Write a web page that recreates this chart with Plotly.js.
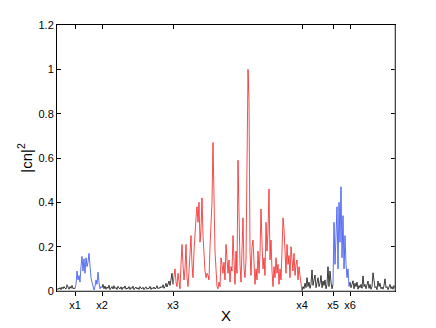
<!DOCTYPE html>
<html>
<head>
<meta charset="utf-8">
<script src="https://cdn.plot.ly/plotly-3.0.1.min.js"></script>
<style>
  html, body { margin: 0; padding: 0; background: #fff; }
  #plot { width: 436px; height: 328px; }
</style>
</head>
<body>
<div id="plot"></div>
<script>
// tick marks on the X axis and their labels
var tickPos = [18, 45, 116, 245, 276, 293];
var tickText = ["x1", "x2", "x3", "x4", "x5", "x6"];
var xMax = 338;

// |cn|^2, one value per step, segment by segment
var blackA = [0.005,0.012,0.008,0.015,0.006,0.018,0.01,0.02,0.012,0.009,
              0.028,0.015,0.008,0.02,0.012,0.025,0.01,0.014,0.01];

var blueA = [0.01,0.03,0.09,0.05,0.07,0.04,0.11,0.156,0.09,0.145,
             0.08,0.15,0.11,0.13,0.17,0.10,0.06,0.04,0.012,0.005,
             0.02,0.05,0.03,0.085,0.04,0.01,0.02,0.015];

var blackB = [0.015,0.03,0.01,0.022,0.008,0.018,0.012,0.026,0.006,0.015,
              0.02,0.009,0.024,0.011,0.016,0.007,0.021,0.013,0.009,0.019,
              0.006,0.017,0.012,0.023,0.008,0.014,0.01,0.02,0.007,0.016,
              0.011,0.022,0.006,0.013,0.018,0.009,0.015,0.007,0.02,0.012,
              0.01,0.017,0.006,0.014,0.019,0.008,0.013,0.011,0.021,0.007,
              0.015,0.01,0.018,0.009,0.013,0.024,0.01,0.016,0.012,0.02,
              0.015,0.028,0.012,0.02,0.035,0.018,0.03,0.045,0.025,0.06,
              0.08,0.03];

var red = [0.03,0.07,0.10,0.04,0.02,0.08,0.03,0.01,0.12,0.21,
           0.12,0.05,0.10,0.21,0.06,0.02,0.09,0.16,0.25,0.12,
           0.06,0.18,0.27,0.33,0.38,0.31,0.40,0.22,0.28,0.42,
           0.25,0.14,0.09,0.06,0.08,0.07,0.05,0.20,0.35,0.40,
           0.67,0.36,0.18,0.10,0.02,0.01,0.04,0.02,0.15,0.12,
           0.08,0.13,0.05,0.21,0.16,0.08,0.14,0.04,0.11,0.09,
           0.25,0.12,0.03,0.18,0.08,0.59,0.26,0.12,0.04,0.16,
           0.33,0.10,0.06,0.14,0.56,1.00,0.86,0.18,0.07,0.20,
           0.23,0.12,0.03,0.10,0.05,0.18,0.08,0.17,0.37,0.22,
           0.10,0.15,0.07,0.31,0.18,0.27,0.46,0.14,0.23,0.09,
           0.02,0.11,0.06,0.15,0.08,0.12,0.03,0.10,0.05,0.18,
           0.33,0.28,0.15,0.08,0.21,0.12,0.16,0.06,0.20,0.13,
           0.09,0.17,0.07,0.12,0.14,0.05,0.11,0.07,0.02,0.00];

var blackC = [0.00,0.02,0.01,0.035,0.015,0.06,0.02,0.04,0.012,0.03,
              0.095,0.025,0.05,0.072,0.015,0.04,0.06,0.02,0.035,0.07,
              0.015,0.045,0.025,0.05,0.01,0.03,0.11,0.02,0.09,0.04,
              0.01,0.03];

var blueB = [0.03,0.31,0.12,0.30,0.38,0.10,0.40,0.22,0.47,0.15,
             0.34,0.10,0.25,0.12,0.06,0.10,0.02,0.04];

var blackD = [0.04,0.015,0.03,0.046,0.01,0.035,0.02,0.04,0.008,0.025,
              0.015,0.03,0.012,0.068,0.02,0.03,0.01,0.025,0.045,0.012,
              0.03,0.008,0.02,0.082,0.03,0.015,0.02,0.006,0.045,0.02,
              0.035,0.01,0.018,0.008,0.025,0.055,0.015,0.02,0.006,0.018,
              0.03,0.01,0.02,0.008,0.025,0.012];

function seg(vals, start, color, w) {
  var xs = vals.map(function (v, i) { return start + i; });
  return {
    x: xs, y: vals, type: "scatter", mode: "lines",
    line: {color: color, width: w},
    hoverinfo: "skip", showlegend: false
  };
}

var BLK = "#000000", RED = "rgb(240,20,20)", BLU = "rgb(40,70,235)";

var data = [
  seg(blackA, 0, BLK, 0.75),
  seg(blueA, tickPos[0], BLU, 0.75),
  seg(blackB, tickPos[1], BLK, 0.75),
  seg(red, tickPos[2], RED, 0.75),
  seg(blackC, tickPos[3], BLK, 0.75),
  seg(blueB, tickPos[4], BLU, 0.75),
  seg(blackD, tickPos[5], BLK, 0.75)
];

var fnt = {family: "Liberation Sans, Arial, sans-serif", size: 11, color: "#000"};

var layout = {
  width: 436, height: 328,
  margin: {l: 57, r: 41, t: 25, b: 37, pad: 0},
  paper_bgcolor: "#fff", plot_bgcolor: "#fff",
  font: fnt,
  showlegend: false,
  xaxis: {
    range: [0, xMax], tickmode: "array", tickvals: tickPos, ticktext: tickText,
    ticks: "outside", ticklen: 4, tickcolor: "#000", tickwidth: 1,
    showgrid: false, zeroline: false, showline: true, linecolor: "#000",
    tickfont: fnt, automargin: false,
    title: {text: "X", font: {family: fnt.family, size: 15, color: "#000"}, standoff: 0}
  },
  xaxis2: {
    overlaying: "x", matches: "x", side: "top", range: [0, xMax],
    tickmode: "array", tickvals: tickPos, showticklabels: false,
    ticks: "inside", ticklen: 4, tickcolor: "#000",
    showgrid: false, zeroline: false, showline: true, linecolor: "#000"
  },
  yaxis: {
    range: [0, 1.2], tickmode: "array",
    tickvals: [0, 0.2, 0.4, 0.6, 0.8, 1, 1.2],
    ticktext: ["0", "0.2", "0.4", "0.6", "0.8", "1", "1.2"],
    ticks: "inside", ticklen: 4, tickcolor: "#000", mirror: "ticks",
    showgrid: false, zeroline: false, showline: true, linecolor: "#000",
    tickfont: fnt, automargin: false,
    title: {text: "|cn|<sup>2</sup>", font: {family: fnt.family, size: 15, color: "#000"}, standoff: 2}
  },
  shapes: [
    {type: "line", xref: "paper", yref: "paper", x0: 0, x1: 1, y0: 0, y1: 0,
     line: {color: "#8a8a8a", width: 1}, layer: "above"},
    {type: "line", xref: "paper", yref: "paper", x0: 1, x1: 1, y0: 0, y1: 1,
     line: {color: "#8a8a8a", width: 1}, layer: "above"}
  ]
};

// an empty trace keeps the top axis drawn
data.push({x: [], y: [], xaxis: "x2", yaxis: "y", type: "scatter", mode: "lines", showlegend: false});

Plotly.newPlot("plot", data, layout, {staticPlot: true, displayModeBar: false});
</script>
</body>
</html>
